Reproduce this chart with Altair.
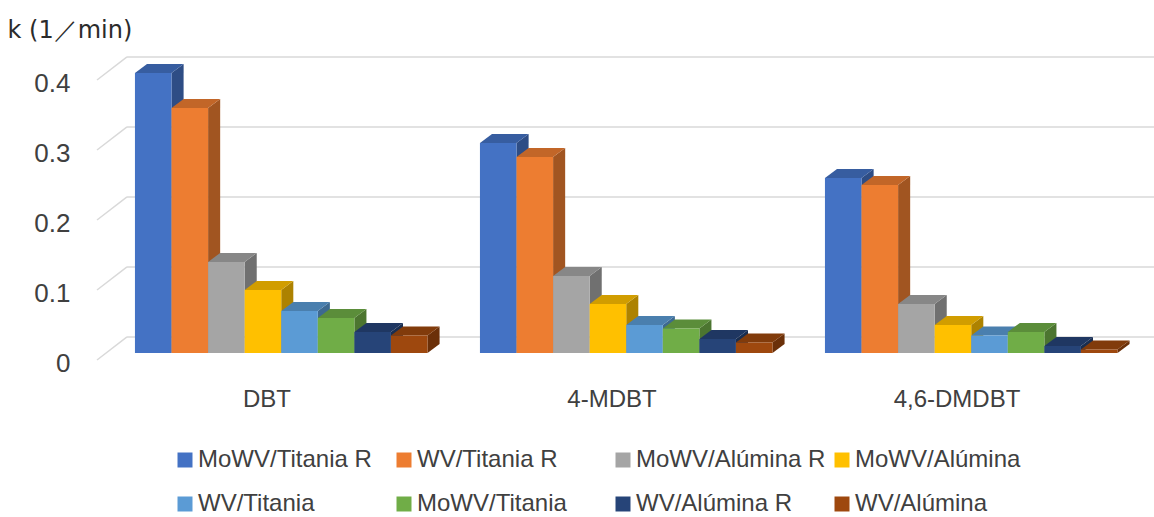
import altair as alt
import pandas as pd

# Categories and series
compounds = ["DBT", "4-MDBT", "4,6-DMDBT"]
catalysts = [
    "MoWV/Titania R", "WV/Titania R", "MoWV/Alúmina R", "MoWV/Alúmina",
    "WV/Titania", "MoWV/Titania", "WV/Alúmina R", "WV/Alúmina",
]
# Rate constant k (1/min) per compound, in catalyst order
k_dbt = [0.40, 0.35, 0.13, 0.09, 0.06, 0.05, 0.03, 0.025]
k_4mdbt = [0.30, 0.28, 0.11, 0.07, 0.04, 0.035, 0.02, 0.015]
k_46dmdbt = [0.25, 0.24, 0.07, 0.04, 0.025, 0.03, 0.01, 0.005]
y_ticks = [0, 0.1, 0.2, 0.3, 0.4]

palette = ["#4472C4", "#ED7D31", "#A5A5A5", "#FFC000",
           "#5B9BD5", "#70AD47", "#264478", "#9E480E"]

# Layout of the pseudo-3D columns (x in category-slot units, y in k units)
SLOT_START = 0.11
BAR_W = 0.106
DEPTH_X = 0.035
DEPTH_Y = 0.013
WALL_X = 0.087
WALL_Y = 0.023
DIAG_Y0 = -0.01
GRID_END = 3.07
TEXT = "#404040"
FONT = "Liberation Sans"


def shade(hex_color, f):
    r, g, b = (int(hex_color[i:i + 2], 16) for i in (1, 3, 5))
    return "#{:02x}{:02x}{:02x}".format(int(r * f), int(g * f), int(b * f))


series_values = [k_dbt, k_4mdbt, k_46dmdbt]
fronts, sides, tops = [], [], []
for j, (comp, vals) in enumerate(zip(compounds, series_values)):
    for i, (cat, k) in enumerate(zip(catalysts, vals)):
        x0 = j + SLOT_START + i * BAR_W
        x1 = x0 + BAR_W
        bar_id = f"{comp}|{cat}"
        fronts.append({"series": cat, "x0": x0, "x1": x1, "k": k})
        side_fill = shade(palette[i], 0.68)
        top_fill = shade(palette[i], 0.82)
        sides.append({"bar": bar_id, "fill": side_fill, "x": x1, "lo": 0.0, "hi": k})
        sides.append({"bar": bar_id, "fill": side_fill, "x": x1 + DEPTH_X,
                      "lo": DEPTH_Y, "hi": k + DEPTH_Y})
        tops.append({"bar": bar_id, "fill": top_fill, "y": k, "xa": x0, "xb": x1})
        tops.append({"bar": bar_id, "fill": top_fill, "y": k + DEPTH_Y,
                     "xa": x0 + DEPTH_X, "xb": x1 + DEPTH_X})

front_df = pd.DataFrame(fronts)
side_df = pd.DataFrame(sides)
top_df = pd.DataFrame(tops)

grid_df = pd.DataFrame({"v": y_ticks})
grid_df["wall_y"] = grid_df["v"] + WALL_Y
grid_df["front_y"] = grid_df["v"] + DIAG_Y0
grid_df["wx"] = WALL_X
grid_df["wx2"] = GRID_END
grid_df["dx0"] = 0.0

xs = alt.Scale(domain=[0, 3], nice=False, zero=False)
ys = alt.Scale(domain=[0, 0.4], nice=False)

label_list = "[" + ",".join(f"'{c}'" for c in compounds) + "]"

# One axis definition per channel, repeated on every layer so they merge
x_axis = alt.Axis(
    values=[0.5, 1.5, 2.5], labelExpr=f"{label_list}[floor(datum.value)]",
    domain=False, ticks=False, grid=False, title=None,
    labelFontSize=24, labelFont=FONT, labelColor=TEXT,
    labelPadding=34, labelOffset=-3, labelFlush=False, labelOverlap=False)
y_axis = alt.Axis(
    values=y_ticks, format=".1~f", domain=False, ticks=False, grid=False,
    labelFontSize=26, labelFont=FONT, labelColor=TEXT,
    labelPadding=27, labelOffset=10,
    title="k (1／min)", titleAngle=0, titleAlign="left",
    titleBaseline="alphabetic", titleX=-90, titleY=-36,
    titleFont="DejaVu Sans", titleFontSize=24, titleFontWeight="normal",
    titleColor="#2b2b2b")

# Back-wall gridlines and the short diagonals on the side wall
wall = alt.Chart(grid_df).mark_rule(color="#d9d9d9", strokeWidth=1.5).encode(
    x=alt.X("wx:Q", scale=xs, axis=x_axis),
    x2="wx2:Q",
    y=alt.Y("wall_y:Q", scale=ys, axis=y_axis),
)

diag = alt.Chart(grid_df).mark_rule(color="#d9d9d9", strokeWidth=1.5).encode(
    x=alt.X("dx0:Q", scale=xs, axis=x_axis),
    x2="wx:Q",
    y=alt.Y("front_y:Q", scale=ys, axis=y_axis),
    y2="wall_y:Q",
)

side = alt.Chart(side_df).mark_area(interpolate="linear").encode(
    x=alt.X("x:Q", scale=xs, axis=x_axis),
    y=alt.Y("hi:Q", scale=ys, stack=None, axis=y_axis),
    y2="lo:Q",
    detail="bar:N",
    color=alt.Color("fill:N", scale=None),
)

top = alt.Chart(top_df).mark_area(orient="horizontal", interpolate="linear").encode(
    y=alt.Y("y:Q", scale=ys, axis=y_axis),
    x=alt.X("xa:Q", scale=xs, stack=None, axis=x_axis),
    x2="xb:Q",
    detail="bar:N",
    color=alt.Color("fill:N", scale=None),
)

front = alt.Chart(front_df).mark_rect().encode(
    x=alt.X("x0:Q", scale=xs, axis=x_axis),
    x2="x1:Q",
    y=alt.Y("k:Q", scale=ys, axis=y_axis),
    y2=alt.datum(0),
    color=alt.Color("series:N", sort=catalysts,
                    scale=alt.Scale(domain=catalysts, range=palette),
                    legend=alt.Legend(
                        title=None, orient="none", legendX=76, legendY=375,
                        direction="horizontal", columns=4, gridAlign="all",
                        columnPadding=4, rowPadding=20,
                        symbolType="square", symbolSize=225, symbolStrokeWidth=0,
                        labelFontSize=24, labelFont=FONT, labelColor=TEXT,
                        labelOffset=1, labelLimit=400, padding=0)),
)

chart = alt.layer(wall, diag, side, top, front).resolve_scale(
    color="independent"
).properties(
    width=1035,
    height=280,
    padding={"left": 97, "top": 73, "right": 22, "bottom": 164},
    autosize=alt.AutoSizeParams(type="none"),
    background="white",
).configure_view(stroke=None)

chart.save("out.html", embed_options={"renderer": "svg", "actions": False})
